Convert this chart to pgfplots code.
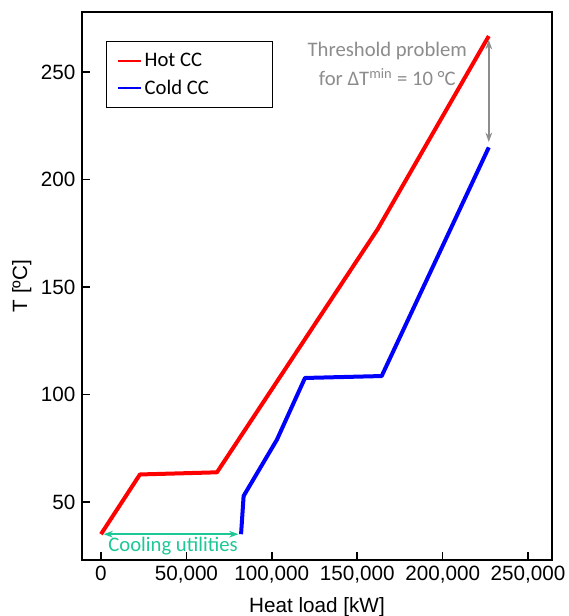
\documentclass[border=0pt]{standalone}
\usepackage{pgfplots}
\pgfplotsset{compat=1.18}
\usepackage{fontspec}
\setmainfont{Liberation Sans}
\newfontfamily\calib{Carlito}
\usetikzlibrary{arrows.meta}
\definecolor{annot}{RGB}{140,140,140}
\definecolor{cool}{RGB}{30,200,150}
\begin{document}
\begin{tikzpicture}
\begin{axis}[
  width=352.5pt, height=411pt, scale only axis,
  xmin=-11100, xmax=264000, ymin=23, ymax=278,
  scaled x ticks=false,
  xtick={0,50000,100000,150000,200000,250000},
  xticklabels={0,{50,000},{100,000},{150,000},{200,000},{250,000}},
  ytick={50,100,150,200,250},
  tick pos=left, tick align=inside, major tick length=6pt,
  axis line style={line width=1.5pt},
  every tick/.style={line width=1.2pt, black},
  ticklabel style={font=\fontsize{15.5}{18}\selectfont},
  yticklabel style={xshift=-1.5pt},
  xticklabel style={yshift=-1pt},
  /pgf/number format/assume math mode=true,
  xlabel={Heat load [kW]}, ylabel={T [ºC]},
  label style={font=\fontsize{15.5}{18}\selectfont},
  xlabel style={at={(axis description cs:0.5,-0.086)}, anchor=center},
  ylabel style={at={(axis description cs:-0.128,0.5)}, anchor=center},
  legend style={at={(0.051,0.947)}, anchor=north west, line width=1pt,
    font=\calib\fontsize{15.5}{18}\selectfont, inner xsep=8pt, inner ysep=6.5pt,
    row sep=4.5pt},
  legend cell align=left,
  clip=false,
]
\addlegendimage{red, line width=1.5pt}
\addlegendentry{\makebox[86pt][l]{Hot CC}}
\addlegendimage{blue, line width=1.5pt}
\addlegendentry{\makebox[86pt][l]{Cold CC}}
\addplot[red, line width=3pt, line join=round, forget plot] coordinates {
  (0,35) (22800,62.8) (67900,63.8) (162000,177) (227000,266.8)};
\addplot[blue, line width=3pt, line join=round, forget plot] coordinates {
  (82000,35) (83500,52.8) (103000,79) (119400,107.7) (164300,108.6) (227000,215)};
\draw[annot, line width=1.2pt, {Stealth[length=7pt,width=5pt]}-{Stealth[length=7pt,width=5pt]}]
  (axis cs:227000,265) -- (axis cs:227000,217.5);
\draw[cool, line width=1.2pt, {Stealth[length=7pt,width=5pt]}-{Stealth[length=7pt,width=5pt]}]
  (axis cs:1500,35) -- (axis cs:80500,35);
\node[cool, font=\calib\fontsize{15.5}{18}\selectfont] at (axis cs:42200,29.5) {Cooling utilities};
\node[annot, font=\calib\fontsize{15.5}{18}\selectfont, align=center] at (axis cs:167600,254)
  {Threshold problem\\[4pt]for ΔT\textsuperscript{min} = 10 °C};
\end{axis}
\pgfresetboundingbox
\path[use as bounding box] (current axis.south west) ++(-61.5pt,-42pt) rectangle ++(426pt,462pt);
\end{tikzpicture}
\end{document}
